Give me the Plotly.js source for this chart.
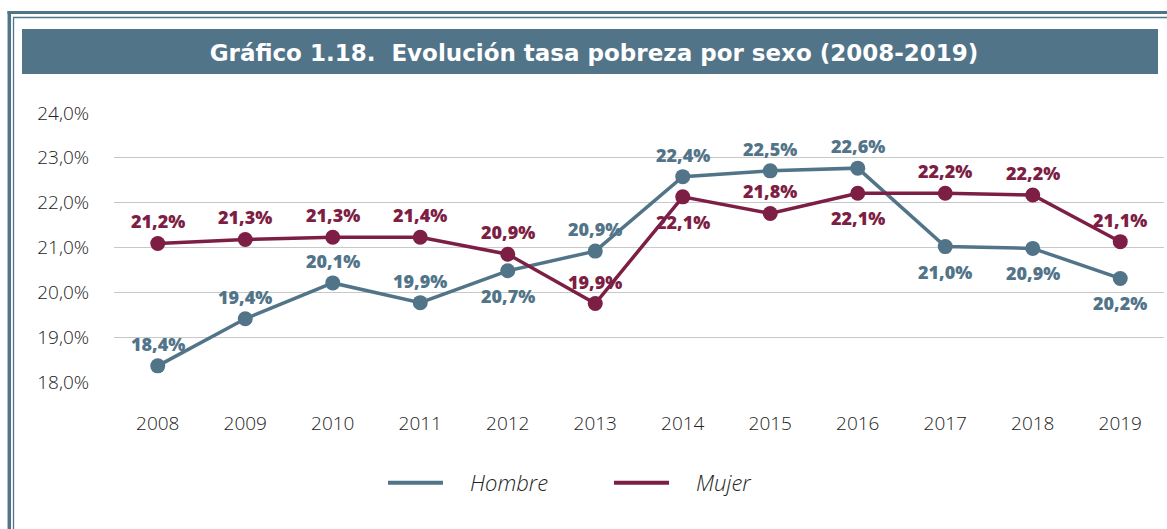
<!DOCTYPE html>
<html><head><meta charset="utf-8">
<script src="https://cdn.plot.ly/plotly-3.0.1.min.js"></script>
<style>html,body{margin:0;padding:0;background:#fff;} #chart{width:1167px;height:529px;}</style>
</head><body><div id="chart"></div>
<script>
// ---- data ----
const years = ['2008','2009','2010','2011','2012','2013','2014','2015','2016','2017','2018','2019'];
const hombreValues = [18.36, 19.41, 20.21, 19.77, 20.48, 20.92, 22.58, 22.71, 22.77, 21.02, 20.98, 20.31];
const mujerValues  = [21.09, 21.18, 21.23, 21.23, 20.85, 19.75, 22.13, 21.76, 22.21, 22.21, 22.17, 21.13];
const hombreLabels = ['18,4\u0025','19,4\u0025','20,1\u0025','19,9\u0025','20,7\u0025','20,9\u0025','22,4\u0025','22,5\u0025','22,6\u0025','21,0\u0025','20,9\u0025','20,2\u0025'];
const mujerLabels  = ['21,2\u0025','21,3\u0025','21,3\u0025','21,4\u0025','20,9\u0025','19,9\u0025','22,1\u0025','21,8\u0025','22,1\u0025','22,2\u0025','22,2\u0025','21,1\u0025'];
const seriesNames = ['Hombre','Mujer'];
const yTicks = [18, 19, 20, 21, 22, 23, 24];
const yTickLabels = ['18,0\u0025','19,0\u0025','20,0\u0025','21,0\u0025','22,0\u0025','23,0\u0025','24,0\u0025'];
const chartTitle = 'Gráfico 1.18.\u00A0 Evolución tasa pobreza por sexo (2008-2019)';

// label placement (style)
const hombreSide = ['up','up','up','up','down','up','up','up','up','down','down','down'];
const mujerSide  = ['up','up','up','up','up','up','down','up','down','up','up','up'];

const C_H = '#527489';
const C_M = '#7d1e44';
const W = 1167, H = 529;
const M = {l:114, r:3, t:113, b:147};
const pw = W - M.l - M.r, ph = H - M.t - M.b;
const px = x => (x - M.l) / pw;
const py = y => (H - M.b - y) / ph;

const traces = [
  {x: years, y: hombreValues, type:'scatter', mode:'lines+markers', name: seriesNames[0],
   line:{color:C_H, width:3.5}, marker:{color:C_H, size:15}, showlegend:false, cliponaxis:false},
  {x: years, y: mujerValues, type:'scatter', mode:'lines+markers', name: seriesNames[1],
   line:{color:C_M, width:3.5}, marker:{color:C_M, size:15}, showlegend:false, cliponaxis:false},
  {x:[null], y:[null], type:'scatter', mode:'lines', name: '\u2003' + seriesNames[0], line:{color:C_H, width:4}},
  {x:[null], y:[null], type:'scatter', mode:'lines', name: '\u2003' + seriesNames[1], line:{color:C_M, width:4}}
];

const annFont = c => ({family:'Open Sans', size:18, color:c, weight:800});
const annotations = [];
years.forEach((yr, i) => {
  annotations.push({x: i, y: hombreValues[i], xref:'x', yref:'y', text: hombreLabels[i], showarrow:false,
    xanchor:'center', yanchor:'middle', yshift: hombreSide[i] === 'up' ? 22 : -25, font: annFont(C_H)});
  annotations.push({x: i, y: mujerValues[i], xref:'x', yref:'y', text: mujerLabels[i], showarrow:false,
    xanchor:'center', yanchor:'middle', yshift: mujerSide[i] === 'up' ? 22 : -25, font: annFont(C_M)});
});

const shapes = [
  {type:'rect', xref:'paper', yref:'paper', x0:px(22), x1:px(1158), y0:py(74), y1:py(29), fillcolor:C_H, line:{width:0}, layer:'below'},
  {type:'line', xref:'paper', yref:'paper', x0:px(9.3), x1:px(9.3), y0:py(11), y1:py(560), line:{color:C_H, width:3.5}},
  {type:'line', xref:'paper', yref:'paper', x0:px(7.5), x1:px(1200), y0:py(12.5), y1:py(12.5), line:{color:C_H, width:3}},
  {type:'line', xref:'paper', yref:'paper', x0:px(13.5), x1:px(13.5), y0:py(17.5), y1:py(560), line:{color:C_H, width:1.3}},
  {type:'line', xref:'paper', yref:'paper', x0:px(13), x1:px(1200), y0:py(17.5), y1:py(17.5), line:{color:C_H, width:1.3}}
];

const layout = {
  width: W, height: H,
  margin: M,
  paper_bgcolor:'#fff', plot_bgcolor:'#fff',
  separators: ',.',
  showlegend: true,
  title: {text: '<b>' + chartTitle + '</b>', font:{family:'DejaVu Sans', size:23, color:'#fff'},
    x: 594/W, xanchor:'center', xref:'container', y: 1 - 53/H, yanchor:'middle', yref:'container'},
  xaxis: {type:'category', range:[-0.5, 11.5], showgrid:false, zeroline:false, showline:false,
    ticks:'outside', ticklen:24, tickcolor:'rgba(0,0,0,0)',
    tickfont:{family:'Open Sans', size:19, color:'#222', weight:300}, fixedrange:true},
  yaxis: {range:[18, 24], tickvals: yTicks, ticktext: yTickLabels,
    showgrid:true, gridcolor:'#c8c8c8', gridwidth:1.3, zeroline:false, showline:false,
    ticks:'outside', ticklen:20, tickcolor:'rgba(0,0,0,0)',
    tickfont:{family:'Open Sans', size:19, color:'#222', weight:300}, fixedrange:true},
  legend: {orientation:'h', x: px(383), xanchor:'left', y: py(483), yanchor:'middle',
    font:{family:'Open Sans', size:22, color:'#222', style:'italic', weight:300},
    itemwidth: 55, entrywidth: 156, bgcolor:'rgba(0,0,0,0)'},
  shapes: shapes,
  annotations: annotations,
  hovermode:false
};

Plotly.newPlot('chart', traces, layout, {displayModeBar:false, staticPlot:true});
</script>
</body></html>
